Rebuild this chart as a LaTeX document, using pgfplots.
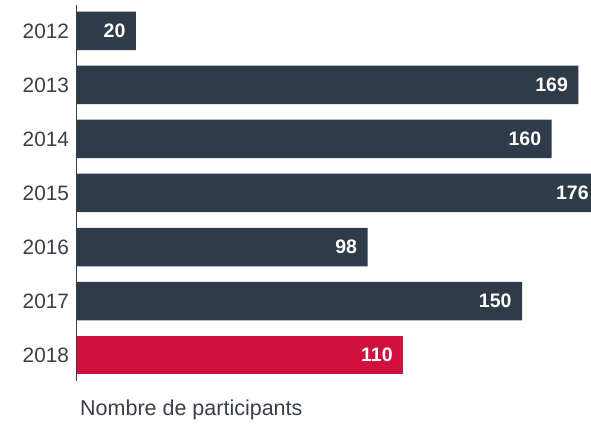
\documentclass[border=0pt]{standalone}
\usepackage{fontspec}
\setmainfont{Liberation Sans}
\usepackage{pgfplots}
\pgfplotsset{compat=1.18}
\definecolor{darkbar}{HTML}{2F3B48}
\definecolor{redbar}{HTML}{D0103E}
\definecolor{labgray}{HTML}{3A3F45}
\begin{document}
\begin{tikzpicture}[x=1pt,y=1pt]
\useasboundingbox (0,0) rectangle (591,423);
\begin{axis}[
  at={(76.5pt,42pt)}, anchor=south west,
  scale only axis, width=534.6pt, height=376pt,
  xbar, bar shift=0pt, bar width=38.5pt,
  xmin=0, xmax=180,
  ymin=2011.52, ymax=2018.48, y dir=reverse,
  axis x line=none,
  axis y line*=left,
  y axis line style={draw=labgray, line width=0.8pt, -},
  ytick={2012,...,2018},
  major tick length=0pt,
  /pgf/number format/assume math mode=true,
  /pgf/number format/1000 sep={},
  yticklabel style={font=\fontsize{20.8}{20.8}\selectfont, text=labgray, xshift=-4pt},
  nodes near coords,
  every node near coord/.append style={anchor=east, xshift=-7pt, text=white, font=\fontsize{19.5}{19.5}\selectfont\bfseries},
]
\addplot[fill=darkbar, draw=none] coordinates {(20,2012) (169,2013) (160,2014) (176,2015) (98,2016) (150,2017)};
\addplot[fill=redbar, draw=none] coordinates {(110,2018)};
\end{axis}
\node[anchor=base west, text=labgray, font=\fontsize{21.5}{21.5}\selectfont, inner sep=0pt] at (80,8) {Nombre de participants};
\end{tikzpicture}
\end{document}
